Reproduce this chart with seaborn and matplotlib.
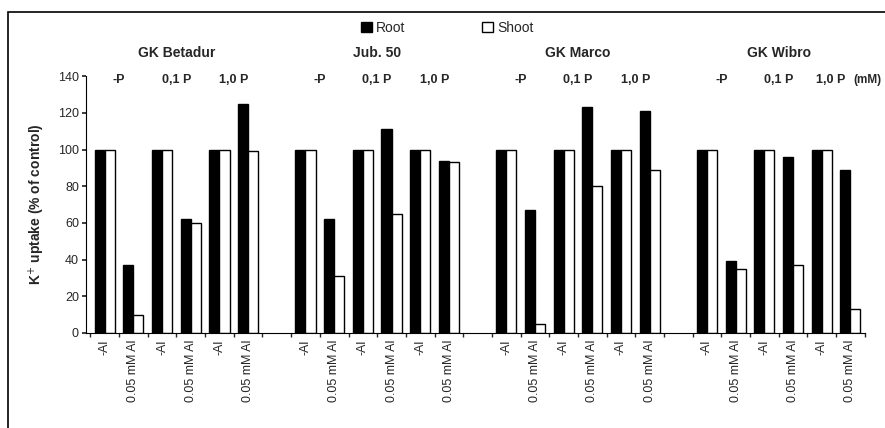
import matplotlib
matplotlib.use("Agg")
import matplotlib.pyplot as plt
from matplotlib.patches import Rectangle, Patch
import pandas as pd
import seaborn as sns

sns.set_theme(style="white")
plt.rcParams["font.family"] = ["Liberation Sans", "DejaVu Sans"]

# ---- donnees ----
cultivars = ["GK Betadur", "Jub. 50", "GK Marco", "GK Wibro"]
p_levels = ["-P", "0,1 P", "1,0 P"]
al_levels = ["-Al", "0.05 mM Al"]

# ordre : pour chaque cultivar, -P(-Al, Al), 0,1 P(-Al, Al), 1,0 P(-Al, Al)
root = [100, 37, 100, 62, 100, 125,
        100, 62, 100, 111, 100, 94,
        100, 67, 100, 123, 100, 121,
        100, 39, 100, 96, 100, 89]
shoot = [100, 10, 100, 60, 100, 99,
         100, 31, 100, 65, 100, 93,
         100, 5, 100, 80, 100, 89,
         100, 35, 100, 37, 100, 13]

# ---- tableau long pour seaborn ----
rows = []
order = []
i = 0
for c_idx, cv in enumerate(cultivars):
    for p in p_levels:
        for al in al_levels:
            key = f"{cv}|{p}|{al}"
            order.append(key)
            rows.append({"cat": key, "organ": "Root", "val": root[i]})
            rows.append({"cat": key, "organ": "Shoot", "val": shoot[i]})
            i += 1
    if c_idx < len(cultivars) - 1:
        order.append(f"gap{c_idx}")     # case vide entre cultivars
df = pd.DataFrame(rows)

fig = plt.figure(figsize=(8.85, 4.28), dpi=100)
ax = fig.add_axes([0.097, 0.222, 0.880, 0.600])

sns.barplot(data=df, x="cat", y="val", hue="organ", order=order,
            hue_order=["Root", "Shoot"], palette={"Root": "black", "Shoot": "white"},
            width=0.7, gap=0, edgecolor="black", linewidth=1.0, ax=ax, legend=False)

ax.set_xlim(-0.66, len(order) - 0.5)
ax.set_ylim(0, 140)
ax.set_yticks(range(0, 141, 20))
ax.tick_params(axis="y", labelsize=9, length=3, direction="out", left=True, pad=2)

# labels sous chaque categorie, ticks entre categories
labels = ["" if k.startswith("gap") else k.split("|")[2] for k in order]
ax.set_xticks(range(len(order)))
ax.set_xticklabels(labels, rotation=90, fontsize=9)
ax.tick_params(axis="x", length=0, pad=5)
ax.set_xticks([k + 0.5 for k in range(-1, len(order))], minor=True)
ax.tick_params(axis="x", which="minor", length=3, direction="out", bottom=True)
ax.set_xlabel("")
ax.set_ylabel("K$^{+}$ uptake (% of control)", fontsize=10, fontweight="bold", labelpad=8)

for s in ["top", "right"]:
    ax.spines[s].set_visible(False)
for s in ["left", "bottom"]:
    ax.spines[s].set_color("black")
    ax.spines[s].set_linewidth(0.8)

# titres des cultivars et niveaux de P
for c_idx, cv in enumerate(cultivars):
    start = c_idx * 7
    ax.text(start + 2.5, 152.5, cv, ha="center", va="center", fontsize=10,
            fontweight="bold", clip_on=False)
    for p_idx, p in enumerate(p_levels):
        x = start + 2 * p_idx + 0.5
        if p_idx == 2 and c_idx == len(cultivars) - 1:
            x -= 0.2
        ax.text(x, 138.0, p, ha="center", va="center", fontsize=9,
                fontweight="bold", clip_on=False)
ax.text(26.1, 138.0, "(mM)", ha="left", va="center", fontsize=8.5,
        fontweight="bold", clip_on=False)

# legende
handles = [Patch(facecolor="black", edgecolor="black", label="Root"),
           Patch(facecolor="white", edgecolor="black", label="Shoot")]
fig.legend(handles=handles, loc="center", bbox_to_anchor=(0.505, 0.935), ncol=2,
           frameon=False, fontsize=10, handlelength=0.8, handleheight=0.8,
           handletextpad=0.3, columnspacing=5.5)

# cadre de la figure
fig.patches.append(Rectangle((8 / 885, -0.05), 1.0, 1 - 12 / 428 + 0.05,
                             transform=fig.transFigure, fill=False,
                             edgecolor="black", linewidth=1.2))

fig.savefig("out.png", dpi=100)
